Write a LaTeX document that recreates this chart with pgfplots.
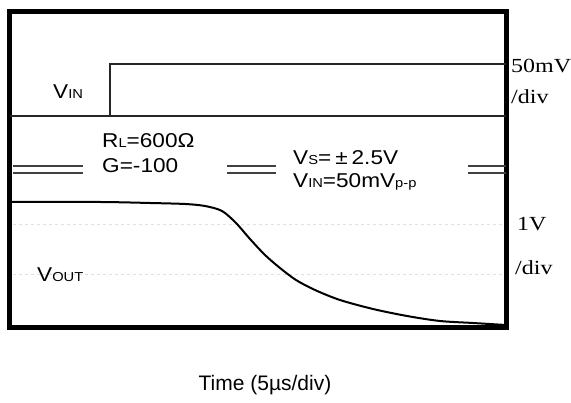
\documentclass[border=0pt]{standalone}
\usepackage{pgfplots}
\pgfplotsset{compat=1.18}
\usepackage{fontspec}
\setmainfont{Liberation Serif}
\setsansfont{Liberation Sans}
\newfontfamily\lblfont{Liberation Sans}[FakeStretch=1.13]
\newfontfamily\srffont{Liberation Serif}[FakeStretch=1.2]
\newcommand{\sub}[1]{{\fontsize{13}{13}\selectfont #1}}
\newcommand{\lbl}{\lblfont\fontsize{20}{24}\selectfont}
\newcommand{\srf}{\srffont\fontsize{20}{24}\selectfont}
\begin{document}
\begin{tikzpicture}
\path[use as bounding box] (-10pt,-75pt) rectangle (561pt,328pt);
\begin{axis}[
  scale only axis, width=496pt, height=316pt,
  xmin=10, xmax=506, ymin=75, ymax=391,
  axis line style={line width=5pt},
  ticks=none, clip=false,
]
% faint scope grid
\addplot[black!12, line width=1pt, dashed] coordinates {(13,178) (503,178)};
\addplot[black!12, line width=1pt, dashed] coordinates {(13,128) (503,128)};
% separator and VIN step
\addplot[black!85, line width=1.5pt] coordinates {(10,287) (506,287)};
\addplot[black!85, line width=1.5pt] coordinates {(110,287) (110,339) (506,339)};
% break marks
\addplot[black!75, line width=1.8pt] coordinates {(13,237) (83,237)};
\addplot[black!75, line width=1.8pt] coordinates {(13,230) (83,230)};
\addplot[black!75, line width=1.8pt] coordinates {(227,237) (276,237)};
\addplot[black!75, line width=1.8pt] coordinates {(227,230) (276,230)};
\addplot[black!75, line width=1.8pt] coordinates {(468,237) (506,237)};
\addplot[black!75, line width=1.8pt] coordinates {(468,230) (506,230)};
% VOUT
\addplot[black, line width=2pt, smooth, tension=0.5] coordinates {
(10,201) (100,201) (150,200) (185,199) (205,197) (222,192) (236,180)
(250,164) (265,148) (280,135) (296,123) (315,113) (340,103) (373,94) (407,87)
(440,82) (473,80) (506,78)};
% labels
\node[anchor=base west, inner sep=0pt] at (axis cs:53,304) {\lbl V\sub{IN}};
\node[anchor=base west, inner sep=0pt] at (axis cs:102,255) {\lbl R\sub{L}=600Ω};
\node[anchor=base west, inner sep=0pt] at (axis cs:102,230) {\lbl G=-100};
\node[anchor=base west, inner sep=0pt] at (axis cs:293,238) {\lbl V\sub{S}=\kern4pt±\kern4pt2.5V};
\node[anchor=base west, inner sep=0pt] at (axis cs:293,215) {\lbl V\sub{IN}=50mV\sub{p-p}};
\node[anchor=base west, inner sep=0pt] at (axis cs:37,121) {\lbl V\sub{OUT}};
\node[anchor=base west, inner sep=0pt] at (axis cs:511,330) {\srf 50mV};
\node[anchor=base west, inner sep=0pt] at (axis cs:511,299) {\srf /div};
\node[anchor=base west, inner sep=0pt] at (axis cs:517,172) {\srf 1V};
\node[anchor=base west, inner sep=0pt] at (axis cs:515,128) {\srf /div};
\node[anchor=center, inner sep=0pt] at (axis cs:265,18) {\sffamily\fontsize{21}{24}\selectfont Time (5µs/div)};
\end{axis}
\end{tikzpicture}
\end{document}
